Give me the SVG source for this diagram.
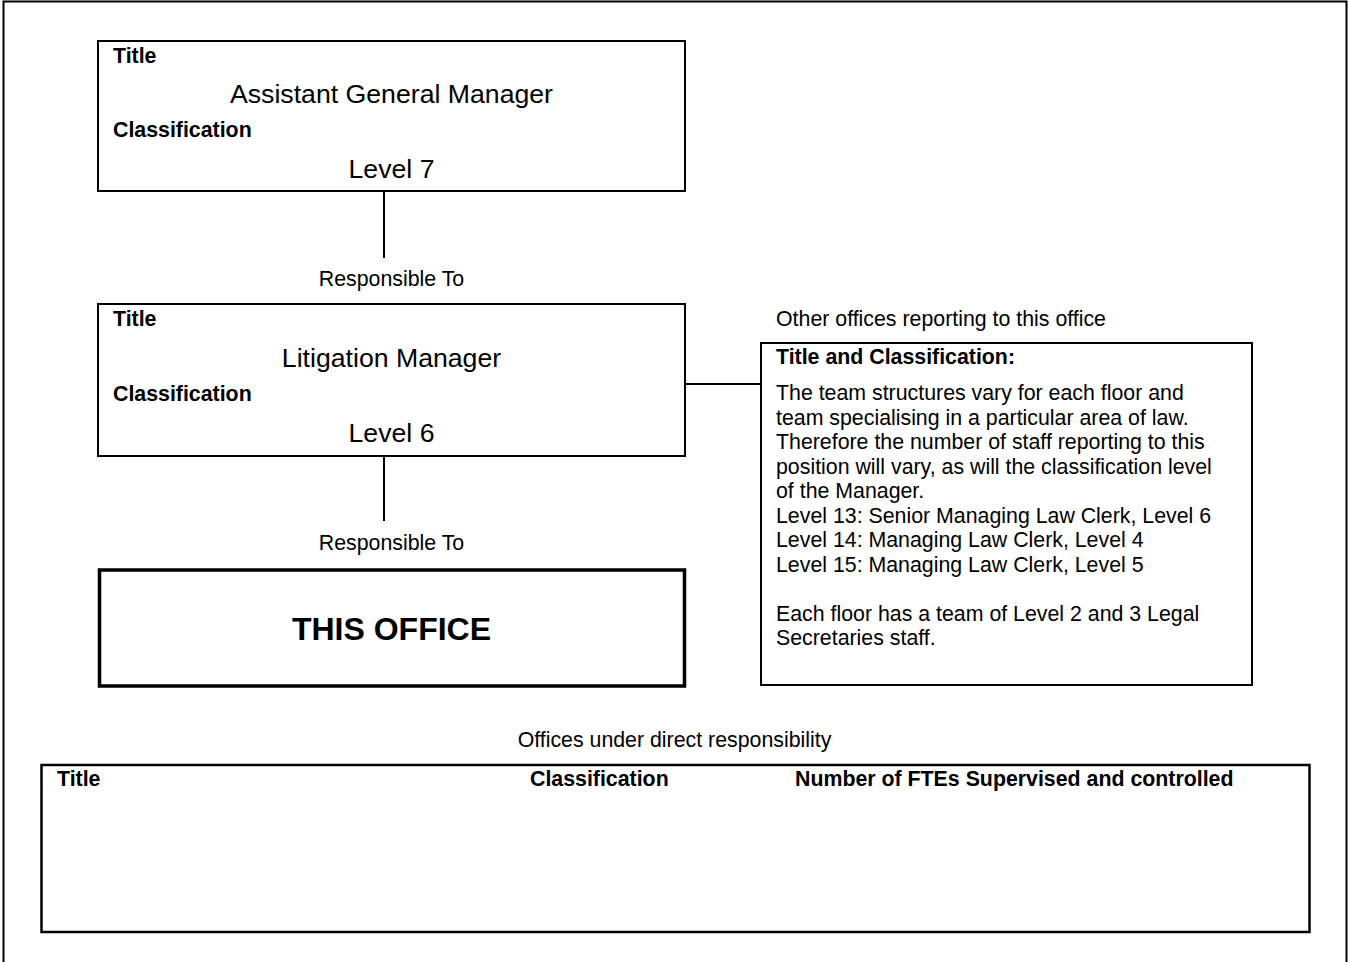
<svg xmlns="http://www.w3.org/2000/svg" width="1349" height="962" viewBox="0 0 1349 962">
<style>
text{font-family:"Liberation Sans",Arial,sans-serif;fill:#000}
.s{font-size:21.33px}
.b{font-size:21.33px;font-weight:bold}
.m{font-size:26.67px;text-anchor:middle}
.c{font-size:21.33px;text-anchor:middle}
.box{fill:#fff;stroke:#000;stroke-width:2}
.line{stroke:#000;stroke-width:2;fill:none}
</style>
<rect width="1349" height="962" fill="#fff"/>
<path d="M3.5,975 V1.5 H1346.5 V975" fill="none" stroke="#000" stroke-width="2"/>
<g id="connectors">
<line class="line" x1="384" y1="192" x2="384" y2="258"/>
<line class="line" x1="384" y1="456" x2="384" y2="521"/>
<line class="line" x1="685" y1="384" x2="761" y2="384"/>
</g>
<g id="node-agm">
<rect class="box" x="98" y="41" width="587" height="150"/>
<text class="b" x="113" y="62.5">Title</text>
<text class="m" x="391.5" y="103">Assistant General Manager</text>
<text class="b" x="113" y="137">Classification</text>
<text class="m" x="391.5" y="178">Level 7</text>
</g>
<text class="c" x="391.5" y="286">Responsible To</text>
<g id="node-lm">
<rect class="box" x="98" y="304" width="587" height="152"/>
<text class="b" x="113" y="325.5">Title</text>
<text class="m" x="391.5" y="367">Litigation Manager</text>
<text class="b" x="113" y="400.5">Classification</text>
<text class="m" x="391.5" y="441.5">Level 6</text>
</g>
<text class="c" x="391.5" y="550">Responsible To</text>
<g id="node-this-office">
<rect x="99.5" y="570" width="585" height="116" fill="#fff" stroke="#000" stroke-width="3.5"/>
<text x="391.5" y="640" font-size="32" font-weight="bold" text-anchor="middle">THIS OFFICE</text>
</g>
<text class="s" x="776" y="326">Other offices reporting to this office</text>
<g id="node-other-offices">
<rect class="box" x="761" y="343" width="491" height="342"/>
<text class="b" x="776" y="363.5">Title and Classification:</text>
<text class="s" x="776" y="400">
<tspan x="776" y="400">The team structures vary for each floor and</tspan>
<tspan x="776" y="424.5">team specialising in a particular area of law.</tspan>
<tspan x="776" y="449">Therefore the number of staff reporting to this</tspan>
<tspan x="776" y="473.5">position will vary, as will the classification level</tspan>
<tspan x="776" y="498">of the Manager.</tspan>
<tspan x="776" y="522.5">Level 13: Senior Managing Law Clerk, Level 6</tspan>
<tspan x="776" y="547">Level 14: Managing Law Clerk, Level 4</tspan>
<tspan x="776" y="571.5">Level 15: Managing Law Clerk, Level 5</tspan>
<tspan x="776" y="620.5">Each floor has a team of Level 2 and 3 Legal</tspan>
<tspan x="776" y="645">Secretaries staff.</tspan>
</text>
</g>
<text class="c" x="674.5" y="747">Offices under direct responsibility</text>
<g id="node-direct-offices">
<rect x="41.5" y="765" width="1268" height="167" fill="#fff" stroke="#000" stroke-width="2.5"/>
<text class="b" x="57" y="785.5">Title</text>
<text class="b" x="530" y="785.5">Classification</text>
<text class="b" x="795" y="785.5">Number of FTEs Supervised and controlled</text>
</g>
</svg>
